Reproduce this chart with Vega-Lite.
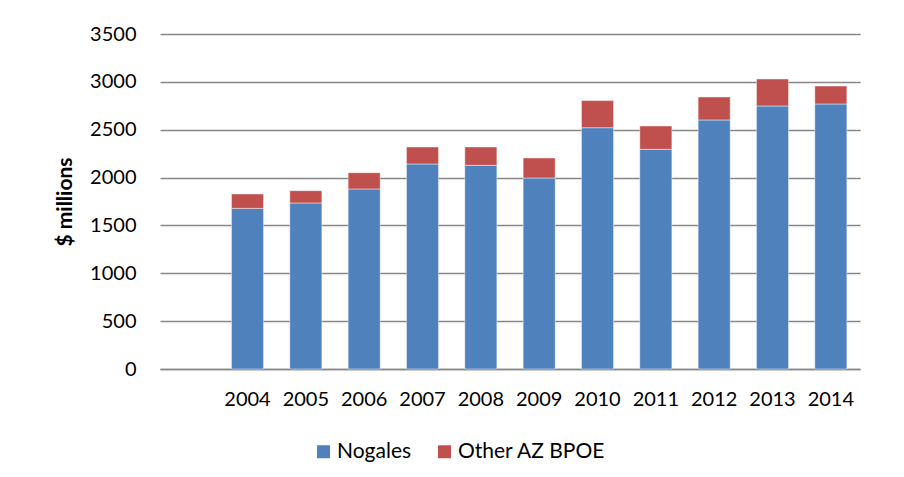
{
  "$schema": "https://vega.github.io/schema/vega-lite/v6.json",
  "width": 700,
  "height": 335,
  "autosize": {"type": "none"},
  "padding": {"left": 160, "top": 34, "right": 44, "bottom": 108},
  "background": "white",
  "config": {
    "view": {"stroke": null},
    "font": "Lato",
    "axis": {"labelFont": "Lato", "titleFont": "Lato", "labelColor": "#000000", "titleColor": "#000000"}
  },
  "data": {
    "values": [
      {"year": "2004", "series": "Nogales", "value": 1678},
      {"year": "2004", "series": "Other AZ BPOE", "value": 151},
      {"year": "2005", "series": "Nogales", "value": 1735},
      {"year": "2005", "series": "Other AZ BPOE", "value": 128},
      {"year": "2006", "series": "Nogales", "value": 1881},
      {"year": "2006", "series": "Other AZ BPOE", "value": 170},
      {"year": "2007", "series": "Nogales", "value": 2142},
      {"year": "2007", "series": "Other AZ BPOE", "value": 178},
      {"year": "2008", "series": "Nogales", "value": 2128},
      {"year": "2008", "series": "Other AZ BPOE", "value": 192},
      {"year": "2009", "series": "Nogales", "value": 1996},
      {"year": "2009", "series": "Other AZ BPOE", "value": 209},
      {"year": "2010", "series": "Nogales", "value": 2521},
      {"year": "2010", "series": "Other AZ BPOE", "value": 283},
      {"year": "2011", "series": "Nogales", "value": 2295},
      {"year": "2011", "series": "Other AZ BPOE", "value": 244},
      {"year": "2012", "series": "Nogales", "value": 2602},
      {"year": "2012", "series": "Other AZ BPOE", "value": 240},
      {"year": "2013", "series": "Nogales", "value": 2748},
      {"year": "2013", "series": "Other AZ BPOE", "value": 282},
      {"year": "2014", "series": "Nogales", "value": 2769},
      {"year": "2014", "series": "Other AZ BPOE", "value": 188}
    ]
  },
  "mark": {"type": "bar", "stroke": "#ffffff", "strokeOpacity": 0.45, "strokeWidth": 1},
  "encoding": {
    "x": {
      "field": "year",
      "type": "ordinal",
      "scale": {
        "domain": ["", "2004", "2005", "2006", "2007", "2008", "2009", "2010", "2011", "2012", "2013", "2014"],
        "paddingInner": 0.45,
        "paddingOuter": 0.225
      },
      "axis": {
        "title": null,
        "labelAngle": 0,
        "labelFontSize": 20,
        "labelPadding": 20,
        "ticks": false,
        "domain": true,
        "domainColor": "#878787",
        "domainWidth": 1.5
      }
    },
    "y": {
      "field": "value",
      "type": "quantitative",
      "stack": "zero",
      "scale": {"domain": [0, 3500], "nice": false},
      "axis": {
        "title": "$ millions",
        "titleFontSize": 21,
        "titleFontWeight": "bold",
        "titlePadding": 14,
        "format": "d",
        "values": [0, 500, 1000, 1500, 2000, 2500, 3000, 3500],
        "labelFontSize": 20,
        "labelPadding": 24,
        "ticks": false,
        "domain": false,
        "grid": true,
        "gridColor": "#878787",
        "gridWidth": 1.5
      }
    },
    "color": {
      "field": "series",
      "type": "nominal",
      "scale": {"domain": ["Nogales", "Other AZ BPOE"], "range": ["#4F81BD", "#C0504D"]},
      "legend": {
        "title": null,
        "orient": "none",
        "direction": "horizontal",
        "legendX": 153,
        "legendY": 407,
        "symbolType": "square",
        "symbolSize": 169,
        "symbolStrokeWidth": 0,
        "labelFontSize": 21,
        "labelFont": "Lato",
        "labelColor": "#000000",
        "labelOffset": 3,
        "columnPadding": 22
      }
    },
    "order": {"field": "series", "sort": "ascending"}
  }
}
